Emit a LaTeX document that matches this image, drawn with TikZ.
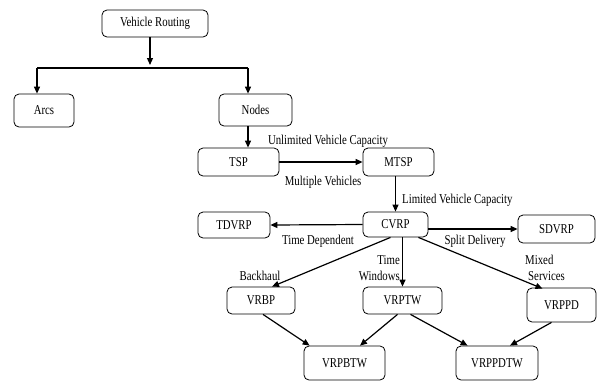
\documentclass[tikz,border=0pt]{standalone}
\usepackage{fontspec}
\setmainfont[FakeStretch=0.8]{Liberation Serif}
\usetikzlibrary{arrows.meta,calc}

\tikzset{
  every node/.style={font=\fontsize{13.5}{16}\selectfont, inner sep=1pt},
  box/.style={draw, rounded corners=5pt, line width=0.8pt, inner sep=2pt},
  arr/.style={line width=1.2pt, -{Triangle[length=7pt,width=6pt]}},
  plain/.style={line width=1.2pt},
  lbl/.style={inner sep=0pt}
}

\begin{document}
\begin{tikzpicture}[x=1pt,y=-1pt]
\useasboundingbox (0,0) rectangle (597,381);

% boxes
\node[box, minimum width=106, minimum height=27] (vr)     at (155,23.5)  {Vehicle Routing};
\node[box, minimum width=60,  minimum height=33] (arcs)   at (44,110.5)  {Arcs};
\node[box, minimum width=73,  minimum height=32] (nodes)  at (255.5,110) {Nodes};
\node[box, minimum width=81,  minimum height=28] (tsp)    at (238.5,162) {TSP};
\node[box, minimum width=71,  minimum height=28] (mtsp)   at (398.5,162) {MTSP};
\node[box, minimum width=72,  minimum height=26] (tdvrp)  at (234,225)   {TDVRP};
\node[box, minimum width=65,  minimum height=25] (cvrp)   at (395.5,224.5) {CVRP};
\node[box, minimum width=77,  minimum height=28] (sdvrp)  at (556.5,229) {SDVRP};
\node[box, minimum width=68,  minimum height=27] (vrbp)   at (261,300.5) {VRBP};
\node[box, minimum width=79,  minimum height=27] (vrptw)  at (402.5,300.5) {VRPTW};
\node[box, minimum width=69,  minimum height=34] (vrppd)  at (561.5,305) {VRPPD};
\node[box, minimum width=81,  minimum height=34] (vrpbtw) at (344.5,363) {VRPBTW};
\node[box, minimum width=82,  minimum height=34] (vrppdtw) at (497,363) {VRPPDTW};

% split under the root
\coordinate (vrtip) at (150,65);
\coordinate (hl) at (37,68);
\coordinate (hr) at (248,68);
\draw[arr] (vrtip |- vr.south) -- (vrtip);
\draw[plain] (hl) -- (hr);
\draw[arr] (hl) -- (hl |- arcs.north);
\draw[arr] (hr) -- (hr |- nodes.north);

% main chain
\draw[arr] (hr |- nodes.south) -- (hr |- tsp.north);
\draw[arr] (tsp.east) -- (mtsp.west);
\draw[arr] (cvrp.north |- mtsp.south) -- (cvrp.north);
\draw[arr] (cvrp.west) -- (tdvrp.east);
\draw[arr] (cvrp.east |- sdvrp.west) -- (sdvrp.west);
\draw[arr] ($(cvrp.south)+(-5,0)$) -- ($(vrbp.north)+(11,0)$);
\draw[arr] (vrptw.north |- cvrp.south) -- (vrptw.north);
\draw[arr] ($(cvrp.south east)+(-10,0)$) -- ($(vrppd.north)+(-19,1)$);

% combined variants
\draw[arr] ($(vrbp.south)+(2,0)$) -- ($(vrpbtw.north west)+(6,0)$);
\draw[arr] ($(vrptw.south)+(-5,0)$) -- ($(vrpbtw.north)+(15.5,0)$);
\draw[arr] ($(vrptw.south)+(8,0)$) -- ($(vrppdtw.north west)+(12,0)$);
\draw[arr] ($(vrppd.south)+(-10,0)$) -- ($(vrppdtw.north)+(13,0)$);

% edge labels
\node[lbl] (l1) at (328,141) {Unlimited Vehicle Capacity};
\node[lbl] (l2) at (323,182) {Multiple Vehicles};
\node[lbl, anchor=west] (l3) at (402,200) {Limited Vehicle Capacity};
\node[lbl] (l4) at (318,241) {Time Dependent};
\node[lbl] (l5) at (475,241) {Split Delivery};
\node[lbl, align=right, anchor=east] (l6) at (400,268) {Time\\Windows};
\node[lbl] (l7) at (260,276) {Backhaul};
\node[lbl, align=left, anchor=west] (l8) at (525,268) {Mixed\\\hspace{3pt}Services};
\end{tikzpicture}
\end{document}
